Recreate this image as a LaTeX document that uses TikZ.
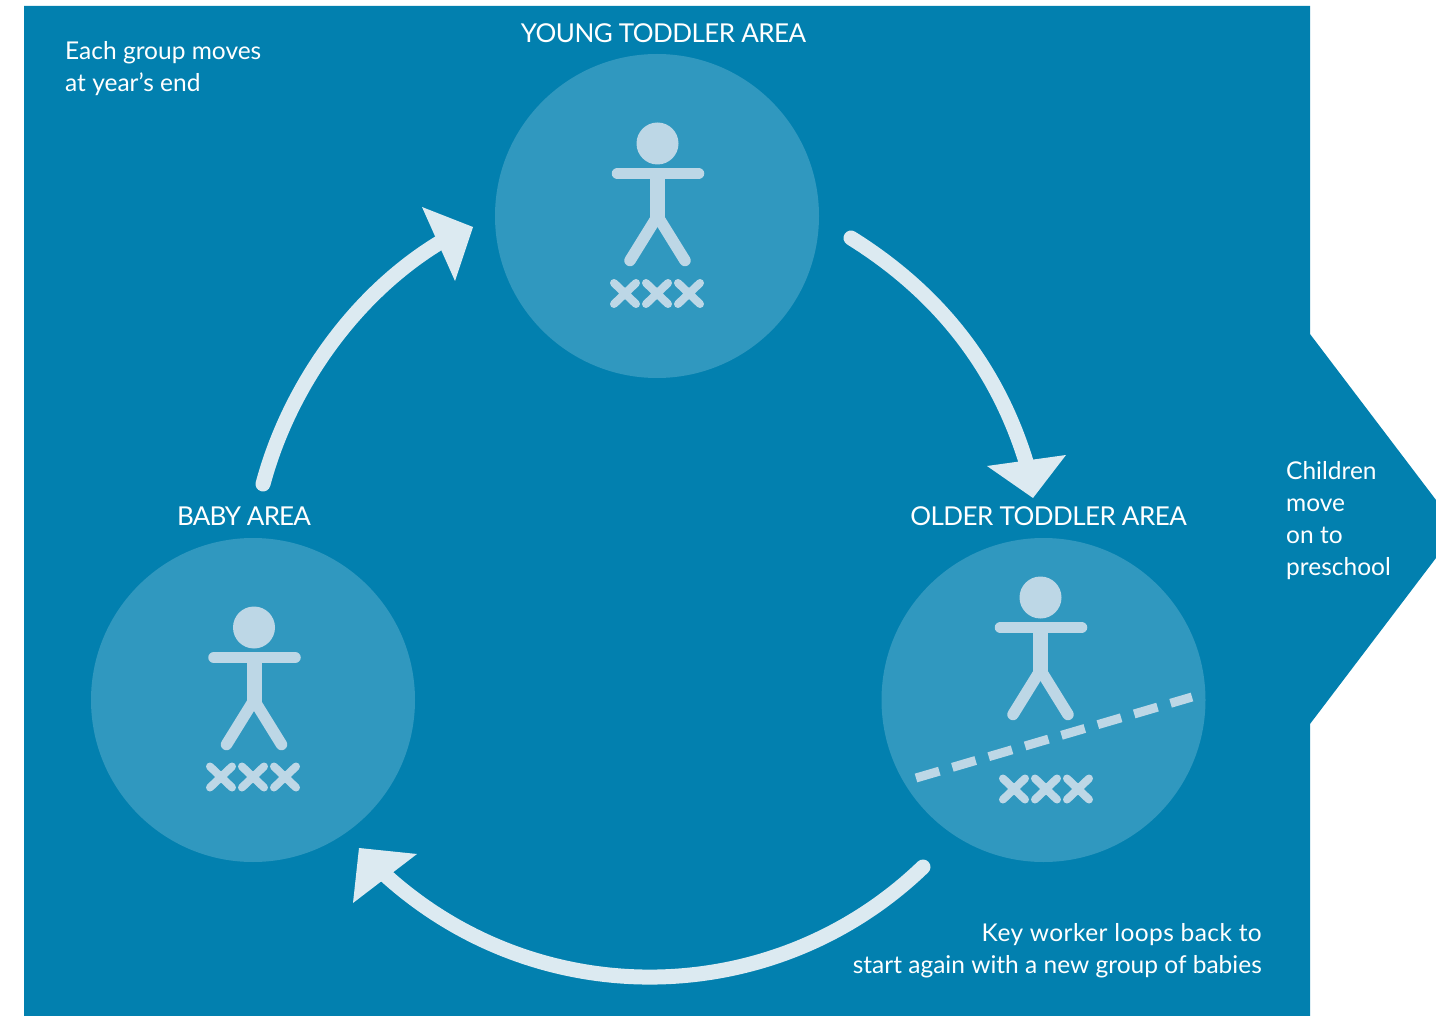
\documentclass[tikz,border=0pt]{standalone}
\usepackage{fontspec}
\setmainfont{Lato}
\definecolor{panel}{HTML}{0280AF}
\definecolor{disc}{HTML}{3098BF}
\definecolor{pale}{HTML}{DCEAF1}
\definecolor{kid}{HTML}{BDD7E6}
\tikzset{
  x=1pt,y=-1pt,
  areadisc/.style={circle,fill=disc,draw=none,minimum size=324pt,inner sep=0pt},
  flow/.style={draw=pale,line width=15pt,line cap=round},
  flowhead/.style={fill=pale,draw=none},
  lbl/.style={text=white,inner sep=0pt,font=\fontsize{24.5}{32}\selectfont},
  arealabel/.style={text=white,inner sep=0pt,font=\fontsize{26}{32}\selectfont\addfontfeature{LetterSpace=-2.1}},
  kidfigure/.pic={
    \fill[kid] (0,0) circle (21);
    \draw[kid,line width=11.5pt,line cap=round] (-40,30) -- (41,30);
    \draw[kid,line width=15pt] (0,29) -- (0,76);
    \draw[kid,line width=11.5pt,line cap=round] (-1.5,75) -- (-27.5,117);
    \draw[kid,line width=11.5pt,line cap=round] (1.5,75) -- (27.5,117);
  },
  onecross/.pic={
    \draw[kid,line width=8pt,line cap=round] (-11,-10.5) -- (11,10.5) (11,-10.5) -- (-11,10.5);
  },
  crosses/.pic={
    \pic at (-32,0) {onecross};
    \pic at (0,0) {onecross};
    \pic at (32,0) {onecross};
  }
}
\begin{document}
\begin{tikzpicture}
\useasboundingbox (0,0) rectangle (1436,1016);
\fill[panel] (24,6) -- (1310,6) -- (1310,334) -- (1436,500) -- (1436,558) -- (1310,724) -- (1310,1016) -- (24,1016) -- cycle;

\node[areadisc] (young) at (657,216) {};
\node[areadisc] (baby) at (253,700) {};
\node[areadisc] (older) at (1043.5,700) {};

\pic at (657.5,143.5) {kidfigure};
\pic at (657,293.5) {crosses};
\pic at (254,627.5) {kidfigure};
\pic at (253,777) {crosses};
\pic at (1040.5,597.5) {kidfigure};
\pic at (1046,789) {crosses};

\coordinate (cutA) at (916,778);
\coordinate (cutB) at (1192,697);
\draw[kid,line width=9pt,dash pattern=on 24.3pt off 13.6pt] (cutA) -- (cutB);

\coordinate (a1s) at (263,484);
\coordinate (a1e) at (439,243);
\draw[flow] (a1s) .. controls (289,387) and (354,295) .. (a1e);
\fill[flowhead] (422,207) -- (473,227) -- (455,281) -- cycle;

\coordinate (a2s) at (851,238);
\coordinate (a2e) at (1027,465);
\draw[flow] (a2s) .. controls (936,291) and (997,365) .. (a2e);
\fill[flowhead] (987,466) -- (1066,455) -- (1033,498) -- cycle;

\coordinate (a3s) at (923,867);
\draw[flow] (a3s) arc[start angle=46.1,end angle=132.4,radius=394];
\fill[flowhead] (359,848) -- (417,854) -- (353,903) -- cycle;

\node[arealabel,anchor=base] (tyoung) at (663.5,43) {YOUNG TODDLER AREA};
\node[arealabel,anchor=base] (tbaby) at (244,525) {\addfontfeature{LetterSpace=-3.2}BABY AREA};
\node[arealabel,anchor=base] (tolder) at (1048.5,525) {OLDER TODDLER AREA};
\node[lbl,align=left,anchor=base west] (tgroup) at (65,92) {Each group moves\\at year’s end};
\node[lbl,align=left,anchor=base west] (tchild) at (1286,575) {Children\\move\\on to\\preschool};
\node[lbl,align=right,anchor=base east] (tkey) at (1262,973) {\addfontfeature{LetterSpace=1.8}Key worker loops back to\\start again with a new group of babies};
\end{tikzpicture}
\end{document}
